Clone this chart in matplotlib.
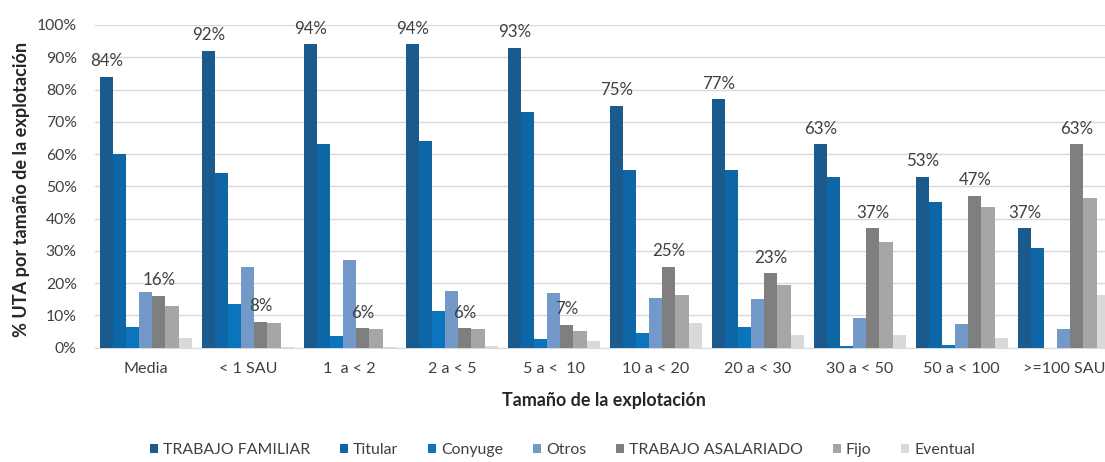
import matplotlib
matplotlib.use("Agg")
import matplotlib.pyplot as plt
from matplotlib.ticker import PercentFormatter
import numpy as np

plt.rcParams['font.family'] = ['Lato', 'DejaVu Sans']

categories = ["Media", "< 1 SAU", "1  a < 2", "2 a < 5", "5 a <  10",
              "10 a < 20", "20 a < 30", "30 a < 50", "50 a < 100", ">=100 SAU"]

series_names = ["TRABAJO FAMILIAR", "Titular", "Conyuge", "Otros",
                "TRABAJO ASALARIADO", "Fijo", "Eventual"]

trabajo_familiar   = [84, 92, 94, 94, 93, 75, 77, 63, 53, 37]
titular            = [60, 54, 63, 64, 73, 55, 55, 53, 45, 31]
conyuge            = [6.3, 13.4, 3.7, 11.4, 2.6, 4.6, 6.5, 0.5, 0.8, 0.0]
otros              = [17.3, 25, 27.2, 17.6, 17, 15.3, 15.1, 9.1, 7.2, 5.7]
trabajo_asalariado = [16, 8, 6, 6, 7, 25, 23, 37, 47, 63]
fijo               = [13, 7.8, 5.8, 5.7, 5.2, 16.4, 19.3, 32.7, 43.5, 46.5]
eventual           = [3, 0.1, 0.2, 0.5, 2.1, 7.7, 3.8, 3.8, 2.9, 16.4]

series_values = [trabajo_familiar, titular, conyuge, otros,
                 trabajo_asalariado, fijo, eventual]
series_colors = ["#1A5A8C", "#0F66A6", "#0A74BC", "#7399C9",
                 "#7F7F7F", "#A6A6A6", "#D9D9D9"]
labelled_series = [0, 4]

DPI = 100
fig = plt.figure(figsize=(11.05, 4.62), dpi=DPI)
ax = fig.add_axes([0.0858, 0.2474, 0.9142, 0.6985])

x = np.arange(len(categories))
n = len(series_values)
width = 0.9 / n

value_labels = []
for i, (name, vals, col) in enumerate(zip(series_names, series_values, series_colors)):
    pos = x + (i - (n - 1) / 2) * width
    bars = ax.bar(pos, vals, width=width, color=col, label=name, zorder=3,
                  linewidth=0)
    if i in labelled_series:
        for b, v in zip(bars, vals):
            t = ax.annotate(f"{v:.0f}%", (b.get_x() + b.get_width() / 2, v),
                            xytext=(0, 5.5), textcoords="offset points",
                            ha="center", va="bottom", fontsize=12,
                            color="#404040", annotation_clip=False)
            value_labels.append(t)

ax.set_ylim(0, 100)
ax.set_xlim(-0.5, 9.404)
ax.set_yticks(np.arange(0, 101, 10))
ax.yaxis.set_major_formatter(PercentFormatter(decimals=0))
ax.grid(axis="y", color="#D9D9D9", linewidth=1, zorder=0)
ax.set_axisbelow(True)
for s in ["top", "right", "left"]:
    ax.spines[s].set_visible(False)
ax.spines["bottom"].set_color("#D9D9D9")
ax.tick_params(axis="both", length=0, labelcolor="#404040")
ax.tick_params(axis="x", pad=10, labelsize=12)
ax.tick_params(axis="y", pad=13, labelsize=12)
ax.set_xticks(x)
ax.set_xticklabels(categories)

ylab = ax.set_ylabel("% UTA por tamaño de la explotación", fontsize=12,
                     fontweight="bold", color="#262626")
xlab = ax.set_xlabel("Tamaño de la explotación", fontsize=12,
                     fontweight="bold", color="#262626")
ax.xaxis.set_label_coords(0.504, -0.165)
xlab.set_va("center")
ax.yaxis.set_label_coords(-0.0724, 0.489)
ylab.set_va("center")


def sized(txt, target_px, vertical=False):
    """Font size that gives txt the wanted extent in pixels."""
    r = fig.canvas.get_renderer()
    bb = txt.get_window_extent(r)
    cur = bb.height if vertical else bb.width
    return txt.get_fontsize() * target_px / cur


fig.canvas.draw()
ax.tick_params(axis="x", labelsize=sized(ax.get_xticklabels()[-1], 82))
ax.tick_params(axis="y", labelsize=sized(ax.get_yticklabels()[-1], 40))
lab_size = sized(value_labels[0], 33)
for t in value_labels:
    t.set_fontsize(lab_size)
xlab.set_fontsize(sized(xlab, 202))
ylab.set_fontsize(sized(ylab, 294, vertical=True))


def make_legend(size, colspacing):
    px = size * DPI / 72
    return fig.legend(loc="center", bbox_to_anchor=(562.5 / 1105, 1 - 450 / 462),
                      ncol=7, frameon=False, fontsize=size, borderpad=0,
                      handlelength=8 / px, handleheight=8 / px,
                      handletextpad=5 / px, columnspacing=colspacing,
                      labelcolor="#404040")


leg = make_legend(11, 2.0)
fig.canvas.draw()
leg_size = sized(leg.get_texts()[0], 147)
leg.remove()
leg = make_legend(leg_size, 2.0)
fig.canvas.draw()
w = leg.get_window_extent(fig.canvas.get_renderer()).width
spacing = 2.0 + (825 - w) / (6 * leg_size * DPI / 72)
leg.remove()
leg = make_legend(leg_size, spacing)

fig.savefig("out.png", dpi=DPI)
